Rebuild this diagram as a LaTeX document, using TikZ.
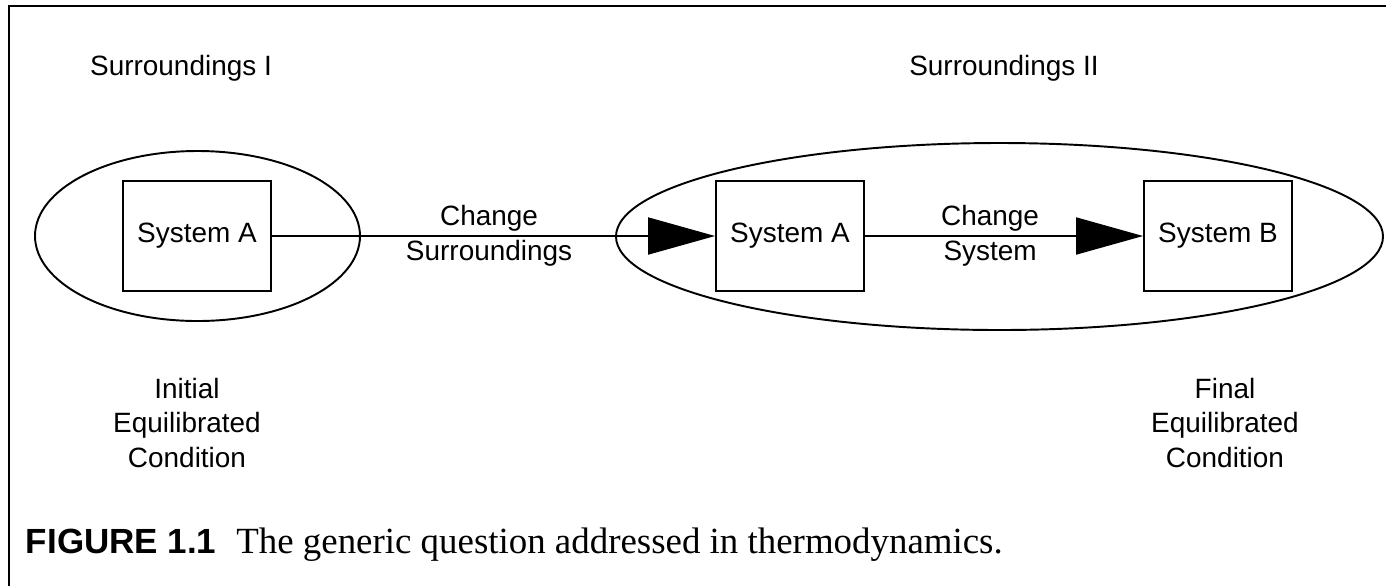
\documentclass[tikz,border=0pt]{standalone}
\usepackage{fontspec}
\setmainfont{Liberation Sans}
\newfontfamily\capserif{Liberation Serif}
\usetikzlibrary{arrows.meta}

\begin{document}
\begin{tikzpicture}[x=0.02cm, y=-0.02cm, line width=1.1pt,
        sysbox/.style={draw, minimum width=2.96cm, minimum height=2.2cm, font=\fontsize{15.9}{19.8}\selectfont},
        lbl/.style={align=center, font=\fontsize{15.9}{19.8}\selectfont},
        flow/.style={-{Triangle[length=1.34cm, width=0.74cm]}}]
    \useasboundingbox (0,0) rectangle (1386,586);
    \draw[line width=1.6pt](9,586)--(9,6)--(1386,6);
    % surroundings
    \draw(197.5,236)ellipse[x radius=162.5, y radius=85];
    \draw(999.5,236.5)ellipse[x radius=383.5, y radius=93.5];
    \node[lbl, anchor=base](surrI) at (181,75){Surroundings I};
    \node[lbl, anchor=base](surrII) at (1004,75){Surroundings II};
    % systems
    \node[sysbox](sysA) at (197,236){System A};
    \node[sysbox](sysAnew) at (790,236){System A};
    \node[sysbox](sysB) at (1218,236){System B};
    \draw[flow](sysA)--node[lbl, pos=.49]{Change\\Surroundings}(sysAnew);
    \draw[flow](sysAnew)--node[lbl, pos=.45]{Change\\System}(sysB);
    \node[lbl](initial) at (187,423){Initial\\Equilibrated\\Condition};
    \node[lbl](final) at (1225,423){Final\\Equilibrated\\Condition};
    \node[anchor=base west, inner sep=0](caption) at (25,553){{\fontsize{19.9}{24}\selectfont\bfseries FIGURE 1.1}\hspace{0.4cm}{\capserif\fontsize{21}{25}\selectfont The generic question addressed in thermodynamics.}};
\end{tikzpicture}
\end{document}
